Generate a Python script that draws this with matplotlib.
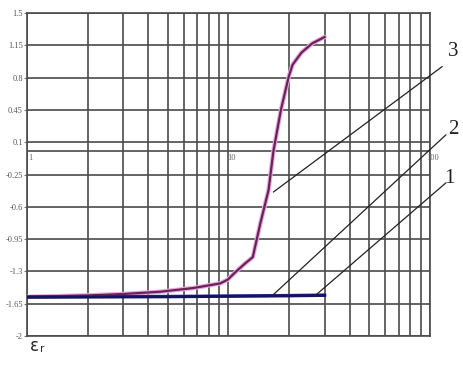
import matplotlib
matplotlib.use("Agg")
import matplotlib.pyplot as plt
import matplotlib.transforms as mtransforms
import numpy as np

# ---- data ----
x3 = [1, 2, 3, 4.6, 6.7, 9.1, 9.9, 10.8, 12, 13.2, 14.4, 15.8, 16.7, 18.2, 19.9, 20.8, 23, 26, 30]
y3 = [-1.575, -1.56, -1.545, -1.52, -1.48, -1.43, -1.39, -1.31, -1.22, -1.145, -0.776,
      -0.42, 0.0, 0.45, 0.81, 0.94, 1.07, 1.17, 1.24]
x2 = [1, 5, 10, 20, 30]
y2 = [-1.575, -1.57, -1.565, -1.56, -1.555]
x1 = [1, 5, 10, 20, 30]
y1 = [-1.58, -1.575, -1.57, -1.565, -1.56]

yticks = [1.5, 1.15, 0.8, 0.45, 0.1, -0.25, -0.6, -0.95, -1.3, -1.65, -2]
ytick_labels = ["1.5", "1.15", "0.8", "0.45", "0.1", "-0.25", "-0.6", "-0.95", "-1.3", "-1.65", "-2"]
xtick_vals = [1, 10, 100]
xtick_labels = ["1", "10", "100"]

# annotation: label, curve point, leader start, label point
ann = [("3", (16.7, -0.44), (115, 0.92), (123, 1.08)),
       ("2", (16.6, -1.557), (120, 0.18), (123, 0.24)),
       ("1", (27.1, -1.557), (120, -0.34), (117, -0.29))]

fig = plt.figure(figsize=(4.64, 3.65), dpi=100)
ax = fig.add_axes([27/464, 29/365, 403/464, 323/365])
ax.set_xscale("log")
ax.set_xlim(1, 100)
ax.set_ylim(-2, 1.5)

gc = "#4a4a4a"
vx = [m * 10**d for d in range(2) for m in range(1, 10)] + [100]
for v in vx:
    ax.axvline(v, color=gc, lw=1.2, zorder=1)
for t in yticks:
    ax.axhline(t, color=gc, lw=1.2, zorder=1)
ax.axhline(0, color=gc, lw=1.2, zorder=1)

for s in ax.spines.values():
    s.set_color(gc)
    s.set_linewidth(1.2)

ax.set_yticks(yticks)
ax.set_yticklabels(ytick_labels, family="Liberation Serif", fontsize=6, color="#555555")
ax.tick_params(axis="y", length=2, width=0.8, color="#777777", pad=1)
ax.set_xticks([])
ax.set_xticks([], minor=True)

for v, lab in zip(xtick_vals, xtick_labels):
    tr = mtransforms.offset_copy(ax.transData, fig=fig, x=3, y=0, units="dots")
    ax.text(v, -0.03, lab, transform=tr, ha="center", va="top",
            family="Liberation Serif", fontsize=6, color="#666666", clip_on=False)

# curves
ax.plot(x3, y3, color="#e8a8dc", lw=3.2, zorder=3, solid_capstyle="round")
ax.plot(x3, y3, color="#6a2358", lw=1.6, zorder=4)
ax.plot(x2, y2, color="#3838a8", lw=2.2, zorder=4)
ax.plot(x1, y1, color="#14145e", lw=2.2, zorder=5)

for lab, p, q, tp in ann:
    ax.annotate("", xy=p, xytext=q, xycoords="data", textcoords="data",
                arrowprops=dict(arrowstyle="-", color="#222222", lw=0.9,
                                shrinkA=0, shrinkB=0),
                annotation_clip=False, zorder=6)
    ax.text(tp[0], tp[1], lab, ha="left", va="center", family="Liberation Serif",
            fontsize=15, color="#222222", clip_on=False)

fig.text(30/464, 1 - 346/365, "ε", fontsize=12, va="center", ha="left", color="#222222")
fig.text(40/464, 1 - 349/365, "r", fontsize=7.5, va="center", ha="left", color="#222222")

fig.savefig("out.png", dpi=100)
